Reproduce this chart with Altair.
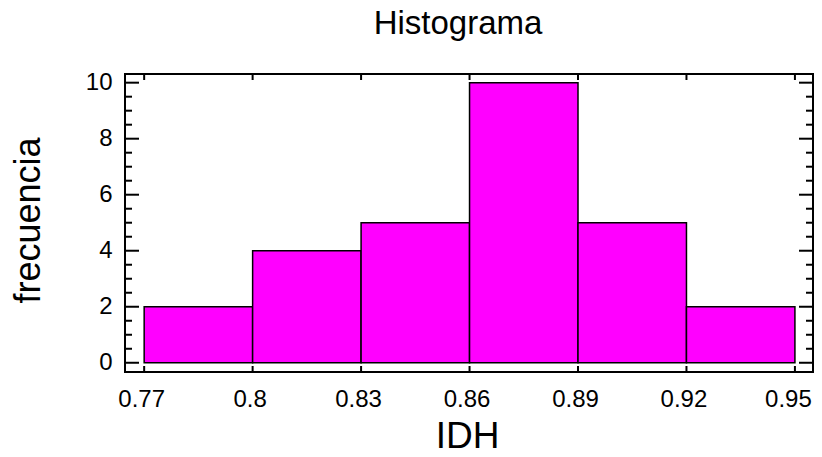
import altair as alt
import pandas as pd

# data
bin_start = [0.77, 0.80, 0.83, 0.86, 0.89, 0.92]
bin_end = [0.80, 0.83, 0.86, 0.89, 0.92, 0.95]
counts = [2, 4, 5, 10, 5, 2]
x_ticks = [0.77, 0.80, 0.83, 0.86, 0.89, 0.92, 0.95]
y_major = [0, 2, 4, 6, 8, 10]
y_minor = [0.5, 1, 1.5, 2.5, 3, 3.5, 4.5, 5, 5.5, 6.5, 7, 7.5, 8.5, 9, 9.5]

W, H = 688, 298
FONT = "Liberation Sans"

bars_df = pd.DataFrame({"start": bin_start, "end": bin_end, "count": counts})
xt_df = pd.DataFrame({"v": x_ticks})
ymaj_df = pd.DataFrame({"v": y_major})
ymin_df = pd.DataFrame({"v": y_minor})

xscale = alt.Scale(domain=[0.7647, 0.955], nice=False, zero=False)
yscale = alt.Scale(domain=[-0.33, 10.31], nice=False, zero=False)

bars = alt.Chart(bars_df).mark_rect(
    fill="#FF00FF", stroke="black", strokeWidth=1.5
).encode(
    x=alt.X("start:Q", scale=xscale, axis=alt.Axis(
        values=x_ticks, format=".2~f", grid=False, ticks=False, tickSize=0,
        domain=False, labelFont=FONT, labelFontSize=24, labelColor="black",
        labelPadding=15, labelBaseline="top",
        labelOffset={"condition": {"test": "datum.value > 0.94", "value": -7},
                     "value": -3},
        title="IDH", titleFont=FONT, titleFontSize=37, titleFontWeight="normal",
        titleColor="black", titleBaseline="alphabetic", titleY=75, titleX=W / 2 - 2,
        titleAnchor="middle", titleAlign="center")),
    x2="end:Q",
    y=alt.Y("count:Q", scale=yscale, axis=alt.Axis(
        values=y_major, format="d", grid=False, ticks=False, tickSize=0,
        domain=False, labelFont=FONT, labelFontSize=24, labelColor="black",
        labelPadding=13,
        title="frecuencia", titleFont=FONT, titleFontSize=36,
        titleFontWeight="normal", titleColor="black",
        titleBaseline="alphabetic", titleX=-86, titleY=146,
        titleAngle=-90, titleAlign="center")),
    y2=alt.Y2(datum=0),
)

tick_style = dict(color="black", strokeWidth=2)

x_bottom = alt.Chart(xt_df).mark_rule(**tick_style).encode(
    x=alt.X("v:Q", scale=xscale), y=alt.value(H), y2=alt.value(H - 6))
x_top = alt.Chart(xt_df).mark_rule(**tick_style).encode(
    x=alt.X("v:Q", scale=xscale), y=alt.value(0), y2=alt.value(6))

yl_major = alt.Chart(ymaj_df).mark_rule(**tick_style).encode(
    y=alt.Y("v:Q", scale=yscale), x=alt.value(0), x2=alt.value(14))
yl_minor = alt.Chart(ymin_df).mark_rule(**tick_style).encode(
    y=alt.Y("v:Q", scale=yscale), x=alt.value(0), x2=alt.value(7))
yr_major = alt.Chart(ymaj_df).mark_rule(**tick_style).encode(
    y=alt.Y("v:Q", scale=yscale), x=alt.value(W), x2=alt.value(W - 14))
yr_minor = alt.Chart(ymin_df).mark_rule(**tick_style).encode(
    y=alt.Y("v:Q", scale=yscale), x=alt.value(W), x2=alt.value(W - 7))

chart = alt.layer(
    bars, x_bottom, x_top, yl_major, yl_minor, yr_major, yr_minor
).properties(
    width=W, height=H,
    title=alt.TitleParams("Histograma", font=FONT, fontSize=33,
                          fontWeight="normal", color="black",
                          anchor="middle", baseline="alphabetic",
                          offset=4, dx=-11),
    padding={"left": 117, "top": 66, "right": 1, "bottom": 76},
    autosize=alt.AutoSizeParams(type="none"),
).configure(background="white").configure_view(stroke="black", strokeWidth=2)

chart.save("out.html", embed_options={"renderer": "svg", "actions": False})
